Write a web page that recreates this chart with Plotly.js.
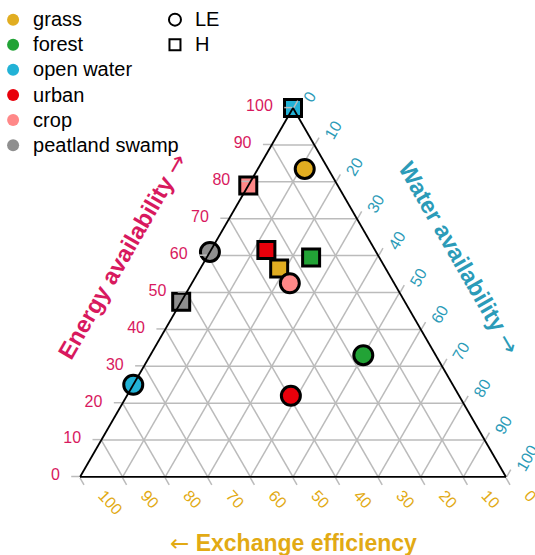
<!DOCTYPE html>
<html>
<head>
<meta charset="utf-8">
<script src="https://cdn.plot.ly/plotly-3.0.1.min.js"></script>
<style>html,body{margin:0;padding:0;background:#fff;}#chart{width:535px;height:555px;}</style>
</head>
<body>
<div id="chart"></div>
<script>
// ---- data ----
var categories = ['grass', 'forest', 'open water', 'urban', 'crop', 'peatland swamp'];
var categoryColors = ['#E1AD21', '#22A336', '#22B2D6', '#E8000B', '#FF8888', '#8F8F8F'];
var fluxLabels = ['LE', 'H'];

// LE (circles): energy availability, exchange efficiency, water availability (%)
var LE_energy   = [83.5, 33.0, 25.0, 22.0, 52.5, 61.0];
var LE_exchange = [ 5.5, 17.0, 75.0, 39.5, 24.5, 39.0];
var LE_water    = [11.0, 50.0,  0.0, 38.5, 23.0,  0.0];

// H (squares)
var H_energy   = [56.5, 59.5, 100.0, 61.5, 79.0, 47.5];
var H_exchange = [25.0, 16.0,   0.0, 25.5, 21.0, 52.5];
var H_water    = [18.5, 24.5,   0.0, 13.0,  0.0,  0.0];

var tickVals = [0, 10, 20, 30, 40, 50, 60, 70, 80, 90, 100];

var colEnergy = '#D8195E', colWater = '#2B9BB8', colExch = '#E2AA14';
var FONT = 'Liberation Sans, Arial, sans-serif';

function legendName(s) { return '<span style="font-size:20px">' + s + '</span>'; }

var traces = [];
// legend entries: colours (small dots hidden beneath the LE circles)
for (var j = 0; j < categories.length; j++) {
  traces.push({
    type: 'scatterternary', mode: 'markers', name: legendName(categories[j]), legend: 'legend',
    a: [LE_energy[j]], b: [LE_exchange[j]], c: [LE_water[j]], hoverinfo: 'skip', cliponaxis: false,
    marker: { symbol: 'circle', size: 12, color: categoryColors[j], line: { width: 0 } }
  });
}
// legend entries: shapes (hidden beneath the real markers)
traces.push({
  type: 'scatterternary', mode: 'markers', name: legendName(fluxLabels[0]), legend: 'legend2',
  a: LE_energy, b: LE_exchange, c: LE_water, hoverinfo: 'skip', cliponaxis: false,
  marker: { symbol: 'circle-open', size: 12, color: '#000', line: { color: '#000', width: 2 } }
});
traces.push({
  type: 'scatterternary', mode: 'markers', name: legendName(fluxLabels[1]), legend: 'legend2',
  a: H_energy, b: H_exchange, c: H_water, hoverinfo: 'skip', cliponaxis: false,
  marker: { symbol: 'square-open', size: 11, color: '#000', line: { color: '#000', width: 2 } }
});

// H squares, urban before grass so grass overlaps it
var hOrder = [3, 0, 1, 2, 4, 5];
hOrder.forEach(function (i) {
  traces.push({
    type: 'scatterternary', mode: 'markers', showlegend: false, hoverinfo: 'skip', cliponaxis: false,
    a: [H_energy[i]], b: [H_exchange[i]], c: [H_water[i]],
    marker: { symbol: 'square', size: 17, color: categoryColors[i], line: { color: '#000', width: 3 } }
  });
});
// LE circles
for (var i = 0; i < categories.length; i++) {
  traces.push({
    type: 'scatterternary', mode: 'markers', showlegend: false, hoverinfo: 'skip', cliponaxis: false,
    a: [LE_energy[i]], b: [LE_exchange[i]], c: [LE_water[i]],
    marker: { symbol: 'circle', size: 19, color: categoryColors[i], line: { color: '#000', width: 3 } }
  });
}

function axisCfg(color, angle) {
  return {
    min: 0,
    tickmode: 'array', tickvals: tickVals, ticktext: tickVals.map(String),
    tickfont: { family: FONT, size: 16, color: color },
    tickangle: angle,
    ticks: 'outside', ticklen: 8, tickcolor: '#BBBBBB', tickwidth: 1.5,
    showline: true, linecolor: '#000', linewidth: 1.8,
    showgrid: true, gridcolor: '#BBBBBB', gridwidth: 1.5,
    title: { text: '' }
  };
}

var legendBase = {
  xanchor: 'left', yanchor: 'top', xref: 'paper', yref: 'paper',
  bgcolor: 'rgba(0,0,0,0)', borderwidth: 0,
  font: { family: FONT, size: 17, color: '#000' },
  itemwidth: 30, tracegroupgap: 0, itemclick: false, itemdoubleclick: false
};

var ARW = '<span style="font-family:DejaVu Sans;font-weight:normal">';
var layout = {
  width: 535, height: 555,
  margin: { l: 80, r: 29, t: 108, b: 78, pad: 0, autoexpand: false },
  paper_bgcolor: '#fff',
  font: { family: FONT, color: '#000' },
  ternary: {
    sum: 100,
    bgcolor: '#fff',
    domain: { x: [0, 1], y: [0, 1] },
    aaxis: axisCfg(colEnergy, 0),
    baxis: axisCfg(colExch, 47),
    caxis: axisCfg(colWater, -60)
  },
  legend: Object.assign({}, legendBase, { x: -0.204, y: 1.287 }),
  legend2: Object.assign({}, legendBase, { x: 0.176, y: 1.287 }),
  annotations: [
    { text: '<b>Energy availability</b> ' + ARW + '→</span>', xref: 'paper', yref: 'paper', x: 0.1, y: 0.599,
      showarrow: false, textangle: -60, xanchor: 'center', yanchor: 'middle',
      font: { family: FONT, size: 23.5, color: colEnergy } },
    { text: '<b>Water availability</b> ' + ARW + '→</span>', xref: 'paper', yref: 'paper', x: 0.8895, y: 0.593,
      showarrow: false, textangle: 60, xanchor: 'center', yanchor: 'middle',
      font: { family: FONT, size: 23.5, color: colWater } },
    { text: ARW + '←</span> <b>Exchange efficiency</b>', xref: 'paper', yref: 'paper', x: 0.5, y: -0.178,
      showarrow: false, xanchor: 'center', yanchor: 'middle',
      font: { family: FONT, size: 23, color: colExch } }
  ],
  showlegend: true
};

// small screen-space offsets of the tick labels, mimicking the reference's label placement
var labelNudge = { aaxis: [-9, 0], baxis: [19, -6], caxis: [5, 3] };

Plotly.newPlot('chart', traces, layout, { displayModeBar: false, staticPlot: true }).then(function (gd) {
  Object.keys(labelNudge).forEach(function (cls) {
    var d = labelNudge[cls];
    gd.querySelectorAll('.' + cls + ' text').forEach(function (t) {
      var m = t.parentNode.getCTM();
      var lx = d[0], ly = d[1];
      if (m) {
        var det = m.a * m.d - m.b * m.c;
        lx = (m.d * d[0] - m.c * d[1]) / det;
        ly = (-m.b * d[0] + m.a * d[1]) / det;
      }
      var tr = t.getAttribute('transform') || '';
      t.setAttribute('transform', 'translate(' + lx.toFixed(2) + ',' + ly.toFixed(2) + ') ' + tr);
    });
  });
});
</script>
</body>
</html>
